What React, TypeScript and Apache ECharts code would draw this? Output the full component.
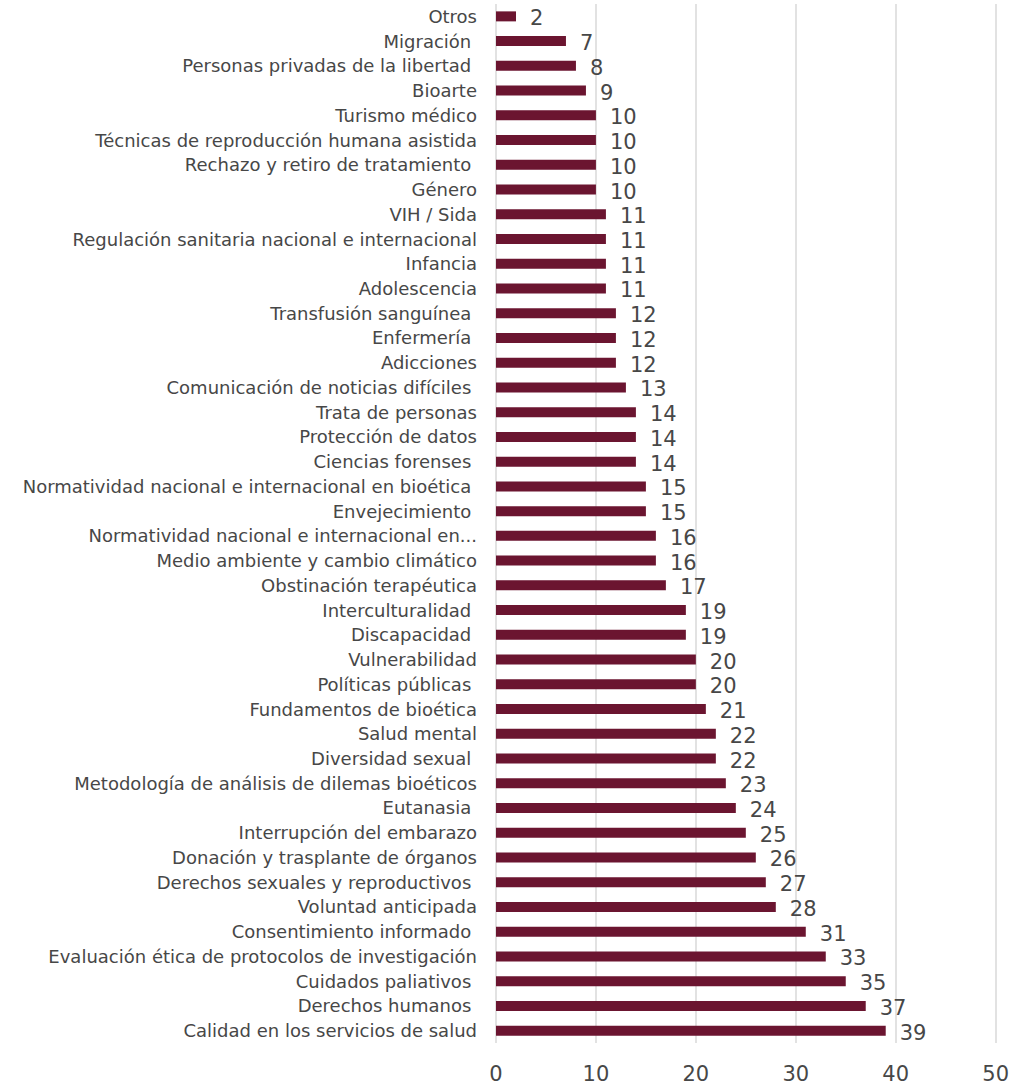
import React, { useEffect, useRef } from "react";
import * as echarts from "echarts";

const categories: string[] = [
  "Otros",
  "Migración ",
  "Personas privadas de la libertad ",
  "Bioarte",
  "Turismo médico",
  "Técnicas de reproducción humana asistida",
  "Rechazo y retiro de tratamiento ",
  "Género",
  "VIH / Sida",
  "Regulación sanitaria nacional e internacional",
  "Infancia",
  "Adolescencia",
  "Transfusión sanguínea ",
  "Enfermería ",
  "Adicciones",
  "Comunicación de noticias difíciles ",
  "Trata de personas",
  "Protección de datos",
  "Ciencias forenses ",
  "Normatividad nacional e internacional en bioética ",
  "Envejecimiento ",
  "Normatividad nacional e internacional en...",
  "Medio ambiente y cambio climático",
  "Obstinación terapéutica",
  "Interculturalidad ",
  "Discapacidad ",
  "Vulnerabilidad",
  "Políticas públicas ",
  "Fundamentos de bioética",
  "Salud mental",
  "Diversidad sexual ",
  "Metodología de análisis de dilemas bioéticos",
  "Eutanasia ",
  "Interrupción del embarazo",
  "Donación y trasplante de órganos",
  "Derechos sexuales y reproductivos ",
  "Voluntad anticipada",
  "Consentimiento informado ",
  "Evaluación ética de protocolos de investigación",
  "Cuidados paliativos ",
  "Derechos humanos ",
  "Calidad en los servicios de salud",
];

const values: number[] = [
  2, 7, 8, 9, 10, 10, 10, 10, 11, 11, 11, 11, 12, 12, 12, 13, 14, 14, 14, 15, 15,
  16, 16, 17, 19, 19, 20, 20, 21, 22, 22, 23, 24, 25, 26, 27, 28, 31, 33, 35, 37, 39,
];

const xTicks = { min: 0, max: 50, interval: 10 };

const FONT = "'DejaVu Sans', sans-serif";
const TEXT = "#474747";
const BAR = "#6b1530";

export default function App() {
  const ref = useRef<HTMLDivElement>(null);
  useEffect(() => {
    if (!ref.current) return;
    const chart = echarts.init(ref.current, undefined, { renderer: "svg" });
    chart.setOption({
      animation: false,
      backgroundColor: "#ffffff",
      grid: { left: 496, right: 14, top: 4, bottom: 45, containLabel: false },
      xAxis: {
        type: "value",
        min: xTicks.min,
        max: xTicks.max,
        interval: xTicks.interval,
        axisLine: { show: false },
        axisTick: { show: false },
        splitLine: { show: true, lineStyle: { color: "#d9d9d9", width: 1.5 } },
        axisLabel: { color: TEXT, fontSize: 21, fontFamily: FONT, margin: 20 },
      },
      yAxis: {
        type: "category",
        data: categories,
        inverse: true,
        axisLine: { show: false },
        axisTick: { show: false },
        axisLabel: {
          color: TEXT,
          fontSize: 18,
          lineHeight: 20,
          fontFamily: FONT,
          margin: 19,
        },
      },
      series: [
        {
          type: "bar",
          data: values,
          barWidth: 10,
          itemStyle: { color: BAR },
          label: {
            show: true,
            position: "right",
            distance: 14,
            offset: [0, 2],
            color: TEXT,
            fontSize: 21,
            lineHeight: 21,
            fontFamily: FONT,
          },
        },
      ],
    });
    return () => chart.dispose();
  }, []);
  return (
    <div
      ref={ref}
      style={{ position: "fixed", left: 0, top: 0, width: 1012, height: 1088 }}
    />
  );
}
